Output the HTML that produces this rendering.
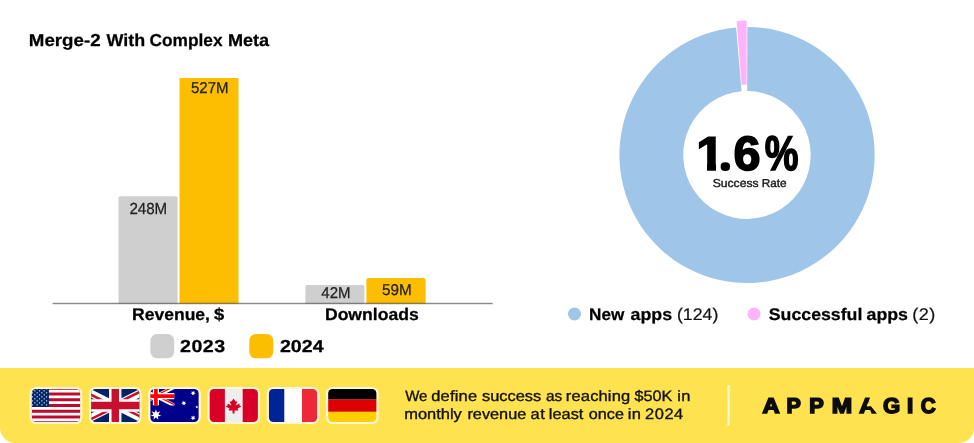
<!DOCTYPE html>
<html lang="en">
<head>
<meta charset="utf-8">
<title>Merge-2 With Complex Meta</title>
<style>
html,body{margin:0;padding:0;background:#fff;}
body{width:974px;height:443px;position:relative;overflow:hidden;font-family:"Liberation Sans",sans-serif;color:#111;}
.t{position:absolute;white-space:nowrap;line-height:1;margin:0;padding:0;transform-origin:0 0;text-rendering:geometricPrecision;}
.b{font-weight:bold;}
.g{position:absolute;left:0;top:0;width:0;height:0;}
.m{position:absolute;background:#fff;}
</style>
</head>
<body>
<!--SHAPES-->
<svg id="shapes" width="974" height="443" viewBox="0 0 974 443" style="position:absolute;left:0;top:0;">
<path fill="#cfcfcf" d="M118.5,303.5V198.25Q118.5,196.25 120.5,196.25H175.6Q177.6,196.25 177.6,198.25V303.5Z"/>
<path fill="#fdbd00" d="M179.5,303.5V79Q179.5,78 180.5,78H237.5Q238.5,78 238.5,79V303.5Z"/>
<path fill="#cfcfcf" d="M305.4,303.5V287Q305.4,285 307.4,285H362.4Q364.4,285 364.4,287V303.5Z"/>
<path fill="#fdbd00" d="M366.4,303.5V280Q366.4,278 368.4,278H423.6Q425.6,278 425.6,280V303.5Z"/>
<rect x="52.6" y="302" width="440.1" height="3" fill="#000" opacity=".1"/><rect x="52.6" y="303" width="440.1" height="1" fill="#000" opacity=".4"/>
<rect x="150.4" y="334.1" width="23.8" height="24.1" rx="6.5" fill="#cfcfcf"/>
<rect x="249.25" y="334.1" width="24" height="24.2" rx="6.5" fill="#fdbd00"/>
<path fill="#9fc5e8" d="M747.33,27.00A127.6,128.00 0 1 1 736.10,27.47L741.56,91.33A63.7,63.90 0 1 0 747.17,91.10Z"/>
<path fill="#ffb3fb" d="M736.58,20.90A127.6,128.00 0 0 1 746.59,20.50L746.64,84.60A63.7,63.90 0 0 0 741.65,84.80Z"/>
<circle cx="574.5" cy="314" r="6.5" fill="#9fc5e8"/>
<circle cx="754" cy="314" r="6.5" fill="#ffb3fb"/>
<path fill="#ffe24f" d="M0,368H974V428A15,15 0 0 1 959,443H15.5A15.5,15.5 0 0 1 0,427.5Z"/>
<rect x="29.70" y="386.9" width="52.6" height="37.2" rx="6.5" fill="#fff8d3"/>
<clipPath id="fc0"><rect x="31.90" y="389.09999999999997" width="48.2" height="32.8" rx="4.3"/></clipPath>
<g clip-path="url(#fc0)"><svg x="29.70" y="386.9" width="52.6" height="37.2" viewBox="0 0 7410 3900" preserveAspectRatio="xMidYMid slice"><rect width="7410" height="3900" fill="#bf0a30"/><path d="M0,450H7410M0,1050H7410M0,1650H7410M0,2250H7410M0,2850H7410M0,3450H7410" stroke="#fff" stroke-width="300"/><rect width="2964" height="2100" fill="#002868"/><path fill="#fff" d="M247,105L271,178L347,178L285,222L309,295L247,250L185,295L209,222L147,178L223,178ZM741,105L765,178L841,178L779,222L803,295L741,250L679,295L703,222L641,178L717,178ZM1235,105L1259,178L1335,178L1273,222L1297,295L1235,250L1173,295L1197,222L1135,178L1211,178ZM1729,105L1753,178L1829,178L1767,222L1791,295L1729,250L1667,295L1691,222L1629,178L1705,178ZM2223,105L2247,178L2323,178L2261,222L2285,295L2223,250L2161,295L2185,222L2123,178L2199,178ZM2717,105L2741,178L2817,178L2755,222L2779,295L2717,250L2655,295L2679,222L2617,178L2693,178ZM494,315L518,388L594,388L532,432L556,505L494,460L432,505L456,432L394,388L470,388ZM988,315L1012,388L1088,388L1026,432L1050,505L988,460L926,505L950,432L888,388L964,388ZM1482,315L1506,388L1582,388L1520,432L1544,505L1482,460L1420,505L1444,432L1382,388L1458,388ZM1976,315L2000,388L2076,388L2014,432L2038,505L1976,460L1914,505L1938,432L1876,388L1952,388ZM2470,315L2494,388L2570,388L2508,432L2532,505L2470,460L2408,505L2432,432L2370,388L2446,388ZM247,525L271,598L347,598L285,642L309,715L247,670L185,715L209,642L147,598L223,598ZM741,525L765,598L841,598L779,642L803,715L741,670L679,715L703,642L641,598L717,598ZM1235,525L1259,598L1335,598L1273,642L1297,715L1235,670L1173,715L1197,642L1135,598L1211,598ZM1729,525L1753,598L1829,598L1767,642L1791,715L1729,670L1667,715L1691,642L1629,598L1705,598ZM2223,525L2247,598L2323,598L2261,642L2285,715L2223,670L2161,715L2185,642L2123,598L2199,598ZM2717,525L2741,598L2817,598L2755,642L2779,715L2717,670L2655,715L2679,642L2617,598L2693,598ZM494,735L518,808L594,808L532,852L556,925L494,880L432,925L456,852L394,808L470,808ZM988,735L1012,808L1088,808L1026,852L1050,925L988,880L926,925L950,852L888,808L964,808ZM1482,735L1506,808L1582,808L1520,852L1544,925L1482,880L1420,925L1444,852L1382,808L1458,808ZM1976,735L2000,808L2076,808L2014,852L2038,925L1976,880L1914,925L1938,852L1876,808L1952,808ZM2470,735L2494,808L2570,808L2508,852L2532,925L2470,880L2408,925L2432,852L2370,808L2446,808ZM247,945L271,1018L347,1018L285,1062L309,1135L247,1090L185,1135L209,1062L147,1018L223,1018ZM741,945L765,1018L841,1018L779,1062L803,1135L741,1090L679,1135L703,1062L641,1018L717,1018ZM1235,945L1259,1018L1335,1018L1273,1062L1297,1135L1235,1090L1173,1135L1197,1062L1135,1018L1211,1018ZM1729,945L1753,1018L1829,1018L1767,1062L1791,1135L1729,1090L1667,1135L1691,1062L1629,1018L1705,1018ZM2223,945L2247,1018L2323,1018L2261,1062L2285,1135L2223,1090L2161,1135L2185,1062L2123,1018L2199,1018ZM2717,945L2741,1018L2817,1018L2755,1062L2779,1135L2717,1090L2655,1135L2679,1062L2617,1018L2693,1018ZM494,1155L518,1228L594,1228L532,1272L556,1345L494,1300L432,1345L456,1272L394,1228L470,1228ZM988,1155L1012,1228L1088,1228L1026,1272L1050,1345L988,1300L926,1345L950,1272L888,1228L964,1228ZM1482,1155L1506,1228L1582,1228L1520,1272L1544,1345L1482,1300L1420,1345L1444,1272L1382,1228L1458,1228ZM1976,1155L2000,1228L2076,1228L2014,1272L2038,1345L1976,1300L1914,1345L1938,1272L1876,1228L1952,1228ZM2470,1155L2494,1228L2570,1228L2508,1272L2532,1345L2470,1300L2408,1345L2432,1272L2370,1228L2446,1228ZM247,1365L271,1438L347,1438L285,1482L309,1555L247,1510L185,1555L209,1482L147,1438L223,1438ZM741,1365L765,1438L841,1438L779,1482L803,1555L741,1510L679,1555L703,1482L641,1438L717,1438ZM1235,1365L1259,1438L1335,1438L1273,1482L1297,1555L1235,1510L1173,1555L1197,1482L1135,1438L1211,1438ZM1729,1365L1753,1438L1829,1438L1767,1482L1791,1555L1729,1510L1667,1555L1691,1482L1629,1438L1705,1438ZM2223,1365L2247,1438L2323,1438L2261,1482L2285,1555L2223,1510L2161,1555L2185,1482L2123,1438L2199,1438ZM2717,1365L2741,1438L2817,1438L2755,1482L2779,1555L2717,1510L2655,1555L2679,1482L2617,1438L2693,1438ZM494,1575L518,1648L594,1648L532,1692L556,1765L494,1720L432,1765L456,1692L394,1648L470,1648ZM988,1575L1012,1648L1088,1648L1026,1692L1050,1765L988,1720L926,1765L950,1692L888,1648L964,1648ZM1482,1575L1506,1648L1582,1648L1520,1692L1544,1765L1482,1720L1420,1765L1444,1692L1382,1648L1458,1648ZM1976,1575L2000,1648L2076,1648L2014,1692L2038,1765L1976,1720L1914,1765L1938,1692L1876,1648L1952,1648ZM2470,1575L2494,1648L2570,1648L2508,1692L2532,1765L2470,1720L2408,1765L2432,1692L2370,1648L2446,1648ZM247,1785L271,1858L347,1858L285,1902L309,1975L247,1930L185,1975L209,1902L147,1858L223,1858ZM741,1785L765,1858L841,1858L779,1902L803,1975L741,1930L679,1975L703,1902L641,1858L717,1858ZM1235,1785L1259,1858L1335,1858L1273,1902L1297,1975L1235,1930L1173,1975L1197,1902L1135,1858L1211,1858ZM1729,1785L1753,1858L1829,1858L1767,1902L1791,1975L1729,1930L1667,1975L1691,1902L1629,1858L1705,1858ZM2223,1785L2247,1858L2323,1858L2261,1902L2285,1975L2223,1930L2161,1975L2185,1902L2123,1858L2199,1858ZM2717,1785L2741,1858L2817,1858L2755,1902L2779,1975L2717,1930L2655,1975L2679,1902L2617,1858L2693,1858Z"/></svg></g>
<rect x="88.96" y="386.9" width="52.6" height="37.2" rx="6.5" fill="#fff8d3"/>
<clipPath id="fc1"><rect x="91.16" y="389.09999999999997" width="48.2" height="32.8" rx="4.3"/></clipPath>
<g clip-path="url(#fc1)"><svg x="88.96" y="386.9" width="52.6" height="37.2" viewBox="0 0 60 30" preserveAspectRatio="xMidYMid slice"><clipPath id="ukc"><path d="M30,15h30v15zv15h-30zh-30v-15zv-15h30z"/></clipPath><path d="M0,0v30h60v-30z" fill="#012169"/><path d="M0,0L60,30M60,0L0,30" stroke="#fff" stroke-width="6"/><path d="M0,0L60,30M60,0L0,30" clip-path="url(#ukc)" stroke="#c8102e" stroke-width="4"/><path d="M30,0v30M0,15h60" stroke="#fff" stroke-width="10"/><path d="M30,0v30M0,15h60" stroke="#c8102e" stroke-width="6"/></svg></g>
<rect x="148.22" y="386.9" width="52.6" height="37.2" rx="6.5" fill="#fff8d3"/>
<clipPath id="fc2"><rect x="150.42" y="389.09999999999997" width="48.2" height="32.8" rx="4.3"/></clipPath>
<g clip-path="url(#fc2)"><svg x="148.22" y="386.9" width="52.6" height="37.2" viewBox="0 0 10080 5040" preserveAspectRatio="xMidYMid slice"><clipPath id="auc"><path d="M2520,1260h2520v1260zv1260h-2520zh-2520v-1260zv-1260h2520z"/></clipPath><rect width="10080" height="5040" fill="#00008b"/><clipPath id="auk"><rect width="5040" height="2520"/></clipPath><g clip-path="url(#auk)"><path d="M0,0L5040,2520M5040,0L0,2520" stroke="#fff" stroke-width="504"/><path d="M0,0L5040,2520M5040,0L0,2520" clip-path="url(#auc)" stroke="#f00" stroke-width="336"/><path d="M2520,0v2520M0,1260h5040" stroke="#fff" stroke-width="840"/><path d="M2520,0v2520M0,1260h5040" stroke="#f00" stroke-width="504"/></g><path fill="#fff" d="M2520,3024L2666,3477L3111,3309L2848,3705L3257,3948L2783,3989L2848,4461L2520,4116L2192,4461L2257,3989L1783,3948L2192,3705L1929,3309L2374,3477ZM7560,3840L7629,4056L7841,3976L7716,4164L7911,4280L7685,4300L7716,4524L7560,4360L7404,4524L7435,4300L7209,4280L7404,4164L7279,3976L7491,4056ZM6300,1845L6369,2061L6581,1981L6456,2169L6651,2285L6425,2305L6456,2529L6300,2365L6144,2529L6175,2305L5949,2285L6144,2169L6019,1981L6231,2061ZM7560,480L7629,696L7841,616L7716,804L7911,920L7685,940L7716,1164L7560,1000L7404,1164L7435,940L7209,920L7404,804L7279,616L7491,696ZM8680,1509L8749,1725L8961,1645L8836,1833L9031,1949L8805,1969L8836,2193L8680,2029L8524,2193L8555,1969L8329,1949L8524,1833L8399,1645L8611,1725ZM8064,2520L8119,2654L8264,2665L8153,2759L8187,2900L8064,2823L7941,2900L7975,2759L7864,2665L8009,2654Z"/></svg></g>
<rect x="207.48" y="386.9" width="52.6" height="37.2" rx="6.5" fill="#fff8d3"/>
<clipPath id="fc3"><rect x="209.68" y="389.09999999999997" width="48.2" height="32.8" rx="4.3"/></clipPath>
<g clip-path="url(#fc3)"><svg x="207.48" y="386.9" width="52.6" height="37.2" viewBox="0 0 52.6 37.2" preserveAspectRatio="none"><rect width="52.6" height="37.2" fill="#eee"/><rect width="17.4" height="37.2" fill="#d80027"/><rect x="35.2" width="17.4" height="37.2" fill="#d80027"/><path transform="translate(3.05 -4.29) scale(.0898)" fill="#d80027" d="M300.5,289.4L345,267.1L322.8,256V233.7L278.3,256L300.5,211.5H278.3L256,178.1L233.7,211.5H211.5L233.7,256L189.2,233.7V256L167,267.1L211.5,289.4L200.3,311.7H244.9V345H267.1V311.7H311.7Z"/></svg></g>
<rect x="266.74" y="386.9" width="52.6" height="37.2" rx="6.5" fill="#fff8d3"/>
<clipPath id="fc4"><rect x="268.94" y="389.09999999999997" width="48.2" height="32.8" rx="4.3"/></clipPath>
<g clip-path="url(#fc4)"><svg x="266.74" y="386.9" width="52.6" height="37.2" viewBox="0 0 3 2" preserveAspectRatio="none"><rect x="2" width="1" height="2" fill="#ed2939"/><rect x="1" width="1" height="2" fill="#fff"/><rect width="1" height="2" fill="#002395"/></svg></g>
<rect x="326.00" y="386.9" width="52.6" height="37.2" rx="6.5" fill="#fff8d3"/>
<clipPath id="fc5"><rect x="328.20" y="389.09999999999997" width="48.2" height="32.8" rx="4.3"/></clipPath>
<g clip-path="url(#fc5)"><svg x="326.00" y="386.9" width="52.6" height="37.2" viewBox="0 0 5 3" preserveAspectRatio="xMidYMid slice"><rect y="2" width="5" height="1" fill="#ffce00"/><rect y="1" width="5" height="1" fill="#d00"/><rect width="5" height="1" fill="#000"/></svg></g>
<rect x="727.4" y="385" width="2.4" height="41" rx="1.2" fill="#fff8d3"/>
</svg>
<!--/SHAPES-->
<!--TEXT-->
<div id="title" class="g"><span class="t b" style="left:27px;top:32px;font-size:17.25px;color:#000;-webkit-text-stroke:0.25px #000;transform:translateX(1.78px) scaleX(1.0853);">Merge-2</span> <span class="t b" style="left:104px;top:32px;font-size:17.25px;color:#000;-webkit-text-stroke:0.25px #000;transform:translateX(2.62px) scaleX(1.0372);">With</span> <span class="t b" style="left:148px;top:32px;font-size:17.25px;color:#000;-webkit-text-stroke:0.25px #000;transform:translateX(1.55px) scaleX(1.0021);">Complex</span> <span class="t b" style="left:227px;top:32px;font-size:17.25px;color:#000;-webkit-text-stroke:0.25px #000;transform:translateX(0.95px) scaleX(1.0494);">Meta</span></div>
<div id="v527" class="g"><span class="t" style="left:189px;top:81px;font-size:15.75px;color:#222;-webkit-text-stroke:0.25px #222;transform:translateX(2px) scaleX(0.9536);">527M</span></div>
<div id="v248" class="g"><span class="t" style="left:128px;top:202px;font-size:16px;color:#222;-webkit-text-stroke:0.25px #222;transform:translateX(1.4px) scaleX(0.9447);">248M</span></div>
<div id="v42" class="g"><span class="t" style="left:319px;top:286px;font-size:15.75px;color:#222;-webkit-text-stroke:0.25px #222;transform:translateX(2.32px) scaleX(0.9538);">42M</span></div>
<div id="v59" class="g"><span class="t" style="left:380px;top:283px;font-size:15.75px;color:#222;-webkit-text-stroke:0.25px #222;transform:translateX(2px) scaleX(0.9655);">59M</span></div>
<div id="xrev" class="g"><span class="t b" style="left:131px;top:307px;font-size:16.75px;color:#000;-webkit-text-stroke:0.25px #000;transform:translateX(0.97px) scaleX(1.0476);">Revenue,</span> <span class="t b" style="left:212px;top:307px;font-size:16.75px;color:#000;-webkit-text-stroke:0.25px #000;transform:translateX(2.02px) scaleX(1.1);">$</span></div>
<div id="xdl" class="g"><span class="t b" style="left:324px;top:307px;font-size:16.75px;color:#000;-webkit-text-stroke:0.25px #000;transform:translateX(0.93px) scaleX(1.0496);">Downloads</span></div>
<div id="lg23" class="g"><span class="t b" style="left:178px;top:338px;font-size:17.25px;color:#000;-webkit-text-stroke:0.25px #000;letter-spacing:0.38px;transform:translateX(2.12px) scaleX(1.14);">2023</span></div>
<div id="lg24" class="g"><span class="t b" style="left:278px;top:338px;font-size:17.25px;color:#000;-webkit-text-stroke:0.25px #000;transform:translateX(1.88px) scaleX(1.1391);">2024</span></div>
<div id="lgnew" class="g"><span class="t b" style="left:588px;top:307px;font-size:16.75px;color:#000;-webkit-text-stroke:0.25px #000;transform:translateX(1.1px) scaleX(1.0224);">New</span> <span class="t b" style="left:629px;top:307px;font-size:16.75px;color:#000;-webkit-text-stroke:0.25px #000;transform:translateX(1.62px) scaleX(1.0605);">apps</span> <span class="t" style="left:675px;top:307px;font-size:16.75px;-webkit-text-stroke:0.2px #111;transform:translateX(1.97px) scaleX(1.0577);">(124)</span></div>
<div id="lgsucc" class="g"><span class="t b" style="left:767px;top:307px;font-size:16.75px;color:#000;-webkit-text-stroke:0.25px #000;transform:translateX(1.75px) scaleX(1.0586);">Successful</span> <span class="t b" style="left:865px;top:307px;font-size:16.75px;color:#000;-webkit-text-stroke:0.25px #000;transform:translateX(1.52px) scaleX(1.0605);">apps</span> <span class="t" style="left:911px;top:307px;font-size:16.75px;-webkit-text-stroke:0.2px #111;letter-spacing:0.47px;transform:translateX(1.27px) scaleX(1.08);">(2)</span></div>
<div id="pct" class="g"><span class="t b" style="left:696px;top:131px;font-size:47.5px;color:#000;-webkit-text-stroke:1.6px #000;transform:translateX(0.2px) scaleX(1.06);">1</span><i class="m" style="left:694px;top:163px;width:13px;height:10px;"></i><i class="m" style="left:716px;top:163px;width:12px;height:10px;"></i><svg width="20" height="20" viewBox="715 155 20 20" style="position:absolute;left:715px;top:155px;overflow:visible;"><text transform="translate(724.38 166.8) scale(1.03 .95)" font-family="Liberation Sans, sans-serif" font-weight="bold" font-size="6" fill="#000" stroke="#000" stroke-width="8.3" stroke-linejoin="round">.</text></svg><span class="t b" style="left:732px;top:130px;font-size:48.25px;color:#000;-webkit-text-stroke:1.6px #000;transform:translateX(1.4px) scaleX(1.008);">6</span><span class="t b" style="left:763px;top:130px;font-size:48.75px;color:#000;-webkit-text-stroke:1.6px #000;transform:translateX(1.8px) scaleX(0.7787);">%</span></div>
<div id="rate" class="g"><span class="t" style="left:710px;top:179px;font-size:11.5px;color:#1a1a1a;-webkit-text-stroke:0.4px #1a1a1a;transform:translateX(2.65px) scaleX(1.0581);">Success</span> <span class="t" style="left:760px;top:179px;font-size:11.5px;color:#1a1a1a;-webkit-text-stroke:0.4px #1a1a1a;transform:translateX(1.77px) scaleX(1.0237);">Rate</span></div>
<div id="note1" class="g"><span class="t" style="left:402px;top:389px;font-size:15px;-webkit-text-stroke:0.35px #111;transform:translateX(3.15px) scaleX(1);">We</span> <span class="t" style="left:429px;top:389px;font-size:15px;-webkit-text-stroke:0.35px #111;letter-spacing:0.18px;transform:translateX(2.15px) scaleX(1.1);">define</span> <span class="t" style="left:480px;top:389px;font-size:15px;-webkit-text-stroke:0.35px #111;transform:translateX(1.95px) scaleX(1.0935);">success</span> <span class="t" style="left:544px;top:389px;font-size:15px;-webkit-text-stroke:0.35px #111;transform:translateX(1.97px) scaleX(1.0267);">as</span> <span class="t" style="left:564px;top:389px;font-size:15px;-webkit-text-stroke:0.35px #111;letter-spacing:0.13px;transform:translateX(1.85px) scaleX(1.1);">reaching</span> <span class="t" style="left:632px;top:389px;font-size:15px;-webkit-text-stroke:0.35px #111;transform:translateX(2.5px) scaleX(1.08);">$50K</span> <span class="t" style="left:676px;top:389px;font-size:15px;-webkit-text-stroke:0.35px #111;letter-spacing:0.27px;transform:translateX(1.33px) scaleX(1.1);">in</span></div>
<div id="note2" class="g"><span class="t" style="left:403px;top:407px;font-size:15px;-webkit-text-stroke:0.35px #111;transform:translateX(1.23px) scaleX(1.0962);">monthly</span> <span class="t" style="left:466px;top:407px;font-size:15px;-webkit-text-stroke:0.35px #111;transform:translateX(1.42px) scaleX(1.0849);">revenue</span> <span class="t" style="left:529px;top:407px;font-size:15px;-webkit-text-stroke:0.35px #111;letter-spacing:0.55px;transform:translateX(1.4px) scaleX(1.1);">at</span> <span class="t" style="left:547px;top:407px;font-size:15px;-webkit-text-stroke:0.35px #111;transform:translateX(1.85px) scaleX(1.0903);">least</span> <span class="t" style="left:587px;top:407px;font-size:15px;-webkit-text-stroke:0.35px #111;transform:translateX(1.85px) scaleX(1.0762);">once</span> <span class="t" style="left:626px;top:407px;font-size:15px;-webkit-text-stroke:0.35px #111;letter-spacing:0.45px;transform:translateX(1.7px) scaleX(1.1);">in</span> <span class="t" style="left:643px;top:407px;font-size:15px;-webkit-text-stroke:0.35px #111;letter-spacing:0.44px;transform:translateX(2.12px) scaleX(1.1);">2024</span></div>
<div id="logo" class="g"><span class="t b" style="left:760px;top:396px;font-size:21.25px;color:#0c0c0c;-webkit-text-stroke:1.6px #0c0c0c;transform:translateX(2.42px) scaleX(1.1138);">A</span><span class="t b" style="left:785px;top:396px;font-size:21.25px;color:#0c0c0c;-webkit-text-stroke:1.6px #0c0c0c;transform:translateX(1.62px) scaleX(1.0109);">P</span><span class="t b" style="left:807px;top:396px;font-size:21.25px;color:#0c0c0c;-webkit-text-stroke:1.6px #0c0c0c;transform:translateX(2.33px) scaleX(1.0255);">P</span><span class="t b" style="left:830px;top:396px;font-size:21.25px;color:#0c0c0c;-webkit-text-stroke:1.6px #0c0c0c;transform:translateX(1.65px) scaleX(1.1515);">M</span><span class="t b" style="left:856px;top:396px;font-size:21.25px;color:#0c0c0c;-webkit-text-stroke:1.6px #0c0c0c;transform:translateX(3.3px) scaleX(1.1077);">A</span><span class="t b" style="left:880px;top:396px;font-size:21.25px;color:#0c0c0c;-webkit-text-stroke:1.6px #0c0c0c;transform:translateX(2.95px) scaleX(1.0375);">G</span><span class="t b" style="left:905px;top:396px;font-size:21.25px;color:#0c0c0c;-webkit-text-stroke:1.6px #0c0c0c;transform:translateX(1.98px) scaleX(1.0526);">I</span><span class="t b" style="left:918px;top:396px;font-size:21.25px;color:#0c0c0c;-webkit-text-stroke:1.6px #0c0c0c;transform:translateX(2.83px) scaleX(0.9714);">C</span><svg width="30" height="24" viewBox="855 393 30 24" style="position:absolute;left:855px;top:393px;"><path fill="#ffe24f" d="M870.5,396H880V414.5H877.7L870.9,406.3H867.1Z"/></svg></div>
<!--/TEXT-->
</body>
</html>
